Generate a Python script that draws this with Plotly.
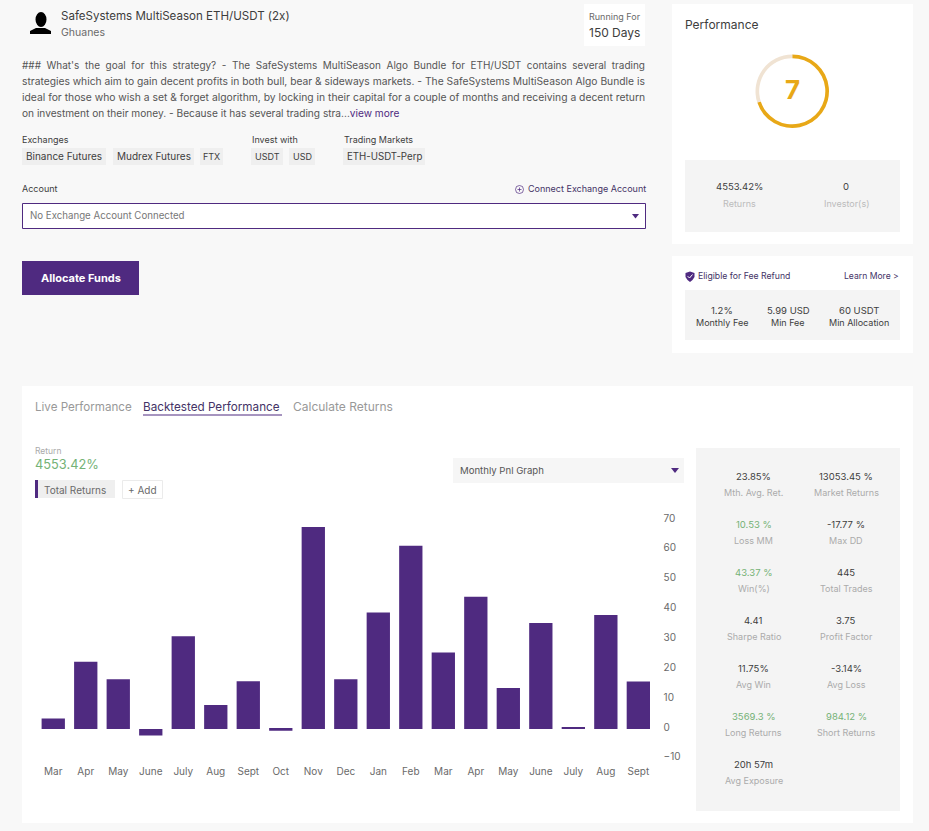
import plotly.graph_objects as go

W = 929
H = 831
PAGE_BG = '#F8F8F8'
PURPLE = '#4F2A80'
GOLD = '#E8A817'
GREEN = '#74B276'
DARK = '#3D3D3D'
MID = '#6A6A6A'
LIGHT = '#ABABAB'
FONT = 'Inter'

# chart data
month_labels = ['Mar', 'Apr', 'May', 'June', 'July', 'Aug', 'Sept', 'Oct', 'Nov', 'Dec',
                'Jan', 'Feb', 'Mar', 'Apr', 'May', 'June', 'July', 'Aug', 'Sept']
monthly_pnl = [3.5, 22.5, 16.7, -2.2, 31.1, 8.0, 16.0, -0.6, 67.7, 16.7,
               39.0, 61.4, 25.6, 44.3, 13.7, 35.5, 0.6, 38.2, 15.9]
y_ticks = [-10, 0, 10, 20, 30, 40, 50, 60, 70]
score_parts = [7, 3]

# stats panel
stat_values = ['23.85%', '13053.45 %', '10.53 %', '-17.77 %', '43.37 %', '445', '4.41', '3.75',
               '11.75%', '-3.14%', '3569.3 %', '984.12 %', '20h 57m']
stat_names = ['Mth. Avg. Ret.', 'Market Returns', 'Loss MM', 'Max DD', 'Win(%)', 'Total Trades',
              'Sharpe Ratio', 'Profit Factor', 'Avg Win', 'Avg Loss', 'Long Returns',
              'Short Returns', 'Avg Exposure']
green_stats = ['Loss MM', 'Win(%)', 'Long Returns', 'Short Returns']

description = [
    "###\u00a0\u00a0What's\u00a0\u00a0the\u00a0\u00a0goal\u00a0\u00a0for\u00a0\u00a0this\u00a0\u00a0strategy?\u00a0\u00a0-\u00a0\u00a0The\u00a0\u00a0SafeSystems\u00a0\u00a0MultiSeason\u00a0\u00a0Algo\u00a0\u00a0Bundle\u00a0\u00a0for\u00a0\u00a0ETH/USDT\u00a0\u00a0contains\u00a0\u00a0several\u00a0\u00a0trading",
    "strategies which aim to gain decent profits in both bull, bear & sideways markets. - The SafeSystems MultiSeason Algo Bundle is",
    "ideal for those who wish a set & forget algorithm, by locking in their capital for a couple of months and receiving a decent return",
    "on investment on their money. - Because it has several trading stra...<span style='color:#4F2A80'>view more</span>",
]
# each line is fitted to the justified width of the original block
description_sizes = [9.97, 10.27, 10.33, 10.15]


def px(x):
    return x / W


def py(y):
    return 1 - y / H


def label(x, y, text, size=10, color=DARK, align='left'):
    # annotations carry about 1px of padding, take it back on the left
    if align == 'left':
        x -= 1
    return dict(x=px(x), y=py(y - 0.5), xref='paper', yref='paper', text=text, showarrow=False,
                xanchor=align, yanchor='middle', align=align, borderpad=0,
                font=dict(family=FONT, size=size, color=color))


def box(x0, y0, x1, y1, fill, line=None, width=1):
    return dict(type='rect', xref='paper', yref='paper', x0=px(x0), y0=py(y0), x1=px(x1), y1=py(y1),
                fillcolor=fill, line=dict(color=line, width=width if line else 0), layer='below')


def outline(points, fill):
    # points given in page pixels
    d = 'M ' + ' L '.join(f'{px(a)} {py(b)}' for a, b in points)
    return dict(type='path', xref='paper', yref='paper', path=d + ' Z', fillcolor=fill,
                line=dict(width=0), layer='above')


def stroke(points, color, width=1):
    d = 'M ' + ' L '.join(f'{px(a)} {py(b)}' for a, b in points)
    return dict(type='path', xref='paper', yref='paper', path=d,
                line=dict(color=color, width=width), layer='above')


def circle(x0, y0, x1, y1, fill, line=None, width=1):
    return dict(type='circle', xref='paper', yref='paper', x0=px(x0), y0=py(y0), x1=px(x1), y1=py(y1),
                fillcolor=fill, line=dict(color=line, width=width if line else 0), layer='above')


shapes = [
    # cards
    box(672, 4, 913, 244, 'white'),
    box(672, 256, 913, 353, 'white'),
    box(22, 386, 913, 823, 'white'),
    box(685, 160, 900, 232, '#F4F4F4'),
    box(685, 290, 900, 340, '#F4F4F4'),
    box(696, 448, 900, 811, '#F4F4F4'),
    box(584, 4, 645, 46, 'white'),
    # tags
    box(22, 148, 106, 165, '#EFEFEF'),
    box(113, 148, 194, 165, '#EFEFEF'),
    box(200, 148, 223, 165, '#EFEFEF'),
    box(251, 148, 283, 165, '#EFEFEF'),
    box(289, 148, 315, 165, '#EFEFEF'),
    box(343, 148, 425, 165, '#EFEFEF'),
    # account select + button
    box(22.5, 203.5, 645.5, 228.5, 'white', PURPLE, 1),
    box(22, 261, 139, 295, PURPLE),
    # tabs, series chip, graph select
    box(143, 414.5, 282, 415.5, PURPLE),
    box(35, 480, 115, 498, '#EFEFEF'),
    box(35, 480, 38, 498, PURPLE),
    box(122.5, 480.5, 162.5, 498.5, 'white', '#EBEBEB', 1),
    box(453, 458, 684, 483, '#F6F6F6'),
    # avatar
    circle(35.5, 12, 46.5, 27, 'black'),
    outline([(30, 34), (30, 31), (36, 28), (45, 28), (51, 31), (51, 34)], 'black'),
    # select arrows
    outline([(632, 214), (639, 214), (635.5, 218.5)], PURPLE),
    outline([(671, 468), (679, 468), (675, 473)], PURPLE),
    # connect icon
    circle(515.5, 185.5, 523.5, 193.5, PAGE_BG, PURPLE, 0.7),
    stroke([(517.5, 189.5), (521.5, 189.5)], PURPLE, 0.7),
    stroke([(519.5, 187.5), (519.5, 191.5)], PURPLE, 0.7),
    # shield
    outline([(685.5, 273), (690, 271.5), (694.5, 273), (694.5, 277), (692.5, 280), (690, 282),
             (687.5, 280), (685.5, 277)], PURPLE),
    stroke([(687.7, 276.2), (689.5, 278), (692.5, 274.5)], 'white', 1),
]

annotations = [
    label(61, 17, 'SafeSystems MultiSeason ETH/USDT (2x)', 11.55, DARK),
    label(61, 33, 'Ghuanes', 10.5, MID),
    label(614.5, 17, 'Running For', 9, MID, 'center'),
    label(614.5, 33, '150 Days', 12, DARK, 'center'),
    label(22, 140, 'Exchanges', 9, DARK),
    label(252, 140, 'Invest with', 9, DARK),
    label(344, 140, 'Trading Markets', 9, DARK),
    label(64, 157, 'Binance Futures', 10, DARK, 'center'),
    label(153.5, 157, 'Mudrex Futures', 10, DARK, 'center'),
    label(211.5, 157, 'FTX', 9, DARK, 'center'),
    label(267, 157, 'USDT', 9, DARK, 'center'),
    label(302, 157, 'USD', 9, DARK, 'center'),
    label(384, 157, 'ETH-USDT-Perp', 9.7, DARK, 'center'),
    label(22, 189, 'Account', 9, DARK),
    label(646.5, 189, 'Connect Exchange Account', 9, '#443366', 'right'),
    label(30, 216, 'No Exchange Account Connected', 9.7, '#777777'),
    label(80.5, 278, '<b>Allocate Funds</b>', 11, 'white', 'center'),
    label(685, 25, 'Performance', 12, DARK),
    label(792.5, 90, '<b>7</b>', 26, GOLD, 'center'),
    label(739, 187, '4553.42%', 9.5, DARK, 'center'),
    label(739, 204, 'Returns', 9, '#BBBBBB', 'center'),
    label(846, 187, '0', 9.5, DARK, 'center'),
    label(846, 204, 'Investor(s)', 9, '#BBBBBB', 'center'),
    label(698, 276, 'Eligible for Fee Refund', 8.7, '#443366'),
    label(900, 276, 'Learn More &gt;', 8.6, '#443366', 'right'),
    label(721.5, 311, '1.2%', 9.5, DARK, 'center'),
    label(721.5, 323, 'Monthly Fee', 9, DARK, 'center'),
    label(788, 311, '5.99 USD', 9.5, DARK, 'center'),
    label(788, 323, 'Min Fee', 9, DARK, 'center'),
    label(859, 311, '60 USDT', 9.5, DARK, 'center'),
    label(859, 323, 'Min Allocation', 9, DARK, 'center'),
    label(35, 407, 'Live Performance', 11.6, '#999999'),
    label(143, 407, 'Backtested Performance', 11.7, '#443366'),
    label(293, 407, 'Calculate Returns', 12, '#999999'),
    label(35, 452, 'Return', 8.5, '#AAAAAA'),
    label(35, 465, '4553.42%', 12.8, GREEN),
    label(44, 490, 'Total Returns', 10, MID),
    label(142.5, 490, '+ Add', 10, MID, 'center'),
    label(460, 471, 'Monthly Pnl Graph', 9.6, '#555555'),
]

for i, (line, size) in enumerate(zip(description, description_sizes)):
    annotations.append(label(22, 65 + i * 16, line, size, '#555555'))

for i, (value, name) in enumerate(zip(stat_values, stat_names)):
    col_x = 753.5 if i % 2 == 0 else 846
    row_y = 477 + (i // 2) * 48
    color = GREEN if name in green_stats else DARK
    annotations.append(label(col_x, row_y, value, 9.5, color, 'center'))
    annotations.append(label(col_x, row_y + 16, name, 9, LIGHT, 'center'))

fig = go.Figure()

fig.add_trace(go.Bar(
    x=list(range(len(monthly_pnl))),
    y=monthly_pnl,
    marker=dict(color=PURPLE, line=dict(width=0)),
    hoverinfo='skip',
    showlegend=False,
))

fig.add_trace(go.Pie(
    values=score_parts,
    marker=dict(colors=[GOLD, '#F0E3D3'], line=dict(width=0)),
    hole=0.9,
    sort=False,
    direction='clockwise',
    rotation=0,
    textinfo='none',
    hoverinfo='skip',
    showlegend=False,
    domain=dict(x=[px(755.5), px(829)], y=[py(128), py(54.5)]),
))

fig.update_layout(
    width=W,
    height=H,
    margin=dict(l=0, r=0, t=0, b=0, pad=0),
    paper_bgcolor=PAGE_BG,
    plot_bgcolor='rgba(0,0,0,0)',
    bargap=0.283,
    font=dict(family=FONT),
    shapes=shapes,
    annotations=annotations,
    xaxis=dict(
        domain=[px(37), px(654.6)],
        range=[-0.5, 18.5],
        tickmode='array',
        tickvals=list(range(len(month_labels))),
        ticktext=month_labels,
        tickfont=dict(family=FONT, size=10, color=MID),
        ticks='',
        showgrid=False,
        zeroline=False,
        showline=False,
        automargin=False,
        anchor='y',
    ),
    yaxis=dict(
        domain=[py(763.8), py(514.1)],
        range=[-11.66, 72],
        tickmode='array',
        tickvals=y_ticks,
        side='right',
        tickfont=dict(family=FONT, size=10, color=MID),
        ticks='outside',
        ticklen=6,
        tickwidth=1,
        tickcolor='rgba(0,0,0,0)',
        ticklabelshift=-2,
        showgrid=False,
        zeroline=False,
        showline=False,
        automargin=False,
        anchor='x',
    ),
)

fig.write_html('out.html', config=dict(displayModeBar=False),
               post_script="document.body.style.margin='0';document.body.style.overflow='hidden';")
